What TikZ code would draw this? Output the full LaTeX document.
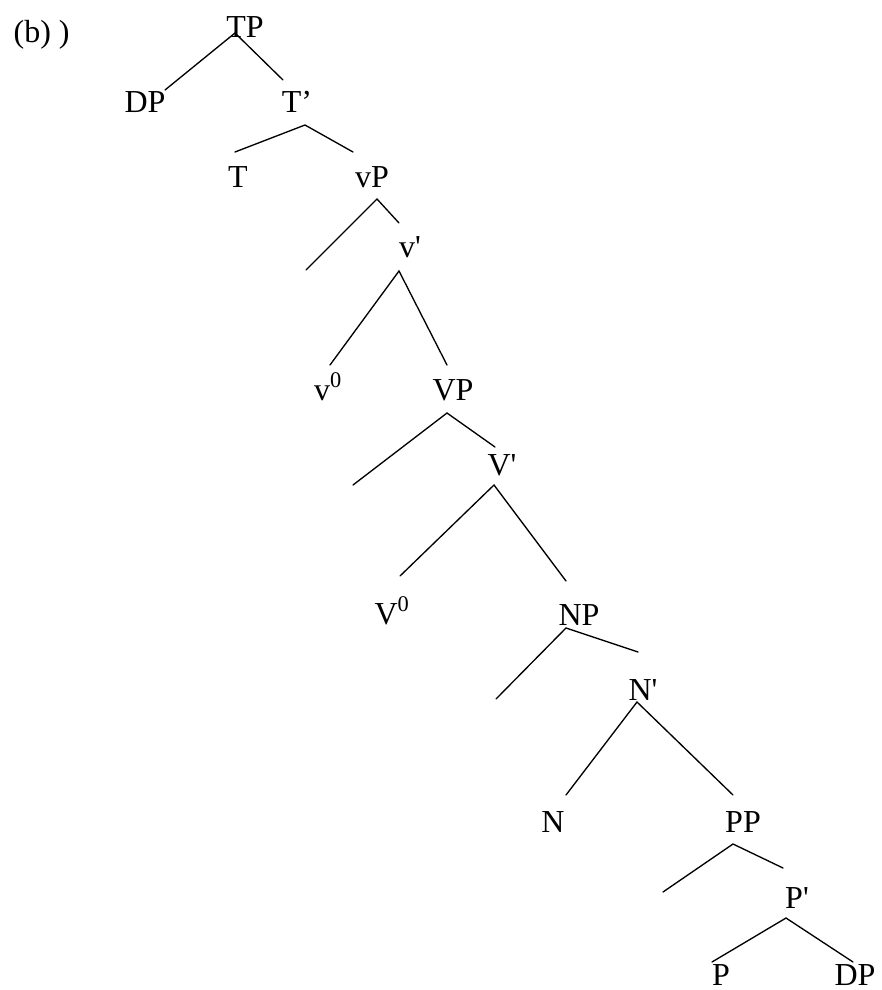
\documentclass[tikz,border=0pt]{standalone}
\usepackage{fontspec}
\setmainfont{Liberation Serif}[Ligatures=TeXOff]
\usetikzlibrary{positioning}

\begin{document}
\begin{tikzpicture}[x=0.75pt,y=-0.75pt,
	line width=1pt,
	every node/.style={inner sep=0pt,anchor=base},
	cat/.style={font=\fontsize{24}{28}\selectfont},
	exlabel/.style={cat,anchor=base west},
	branch/.style={line cap=round},
	]
	\useasboundingbox (0,0) rectangle (882,990);
	
	% example number
	\node[exlabel] (ex) at (13,42) {(b) )};
	
	% category labels
	\node[cat] (tp) at (245,37) {TP};
	\node[cat] (dp1) at (145,112) {DP};
	\node[cat] (tbar) at (297,112) {T’};
	\node[cat] (t) at (238,187) {T};
	\node[cat] (vp) at (372,187) {vP};
	\node[cat] (vbar) at (410,257) {v'};
	\node[cat] (v0) at (328,400) {v\textsuperscript{0}};
	\node[cat] (bigvp) at (453,400) {VP};
	\node[cat] (bigvbar) at (502,475) {V'};
	\node[cat] (bigv0) at (392,624) {V\textsuperscript{0}};
	\node[cat] (np) at (579,625) {NP};
	\node[cat] (nbar) at (643,700) {N'};
	\node[cat] (n) at (553,832) {N};
	\node[cat] (pp) at (743,832) {PP};
	\node[cat] (pbar) at (797,908) {P'};
	\node[cat] (p) at (721,985) {P};
	\node[cat] (dp2) at (855,985) {DP};
	
	% branch points (a) and branch ends (l, r)
	\coordinate (tp-a) at (235,33);
	\coordinate (tp-l) at (165,90);
	\coordinate (tp-r) at (283,80);
	
	\coordinate (tbar-a) at (305,125);
	\coordinate (tbar-l) at (235,152);
	\coordinate (tbar-r) at (353,152);
	
	\coordinate (vp-a) at (377,199);
	\coordinate (vp-l) at (306,270);
	\coordinate (vp-r) at (399,223);
	
	\coordinate (vbar-a) at (399,271);
	\coordinate (vbar-l) at (330,365);
	\coordinate (vbar-r) at (447,365);
	
	\coordinate (bigvp-a) at (447,413);
	\coordinate (bigvp-l) at (353,485);
	\coordinate (bigvp-r) at (495,447);
	
	\coordinate (bigvbar-a) at (494,485);
	\coordinate (bigvbar-l) at (400,576);
	\coordinate (bigvbar-r) at (566,581);
	
	\coordinate (np-a) at (566,628);
	\coordinate (np-l) at (496,699);
	\coordinate (np-r) at (638,652);
	
	\coordinate (nbar-a) at (637,702);
	\coordinate (nbar-l) at (566,795);
	\coordinate (nbar-r) at (733,795);
	
	\coordinate (pp-a) at (733,844);
	\coordinate (pp-l) at (663,892);
	\coordinate (pp-r) at (783,868);
	
	\coordinate (pbar-a) at (786,918);
	\coordinate (pbar-l) at (712,962);
	\coordinate (pbar-r) at (853,962);
	
	% branches
	\foreach \n in {tp,tbar,vp,vbar,bigvp,bigvbar,np,nbar,pp,pbar}
	\draw[branch] (\n-l) -- (\n-a) -- (\n-r);
	
\end{tikzpicture}
\end{document}
